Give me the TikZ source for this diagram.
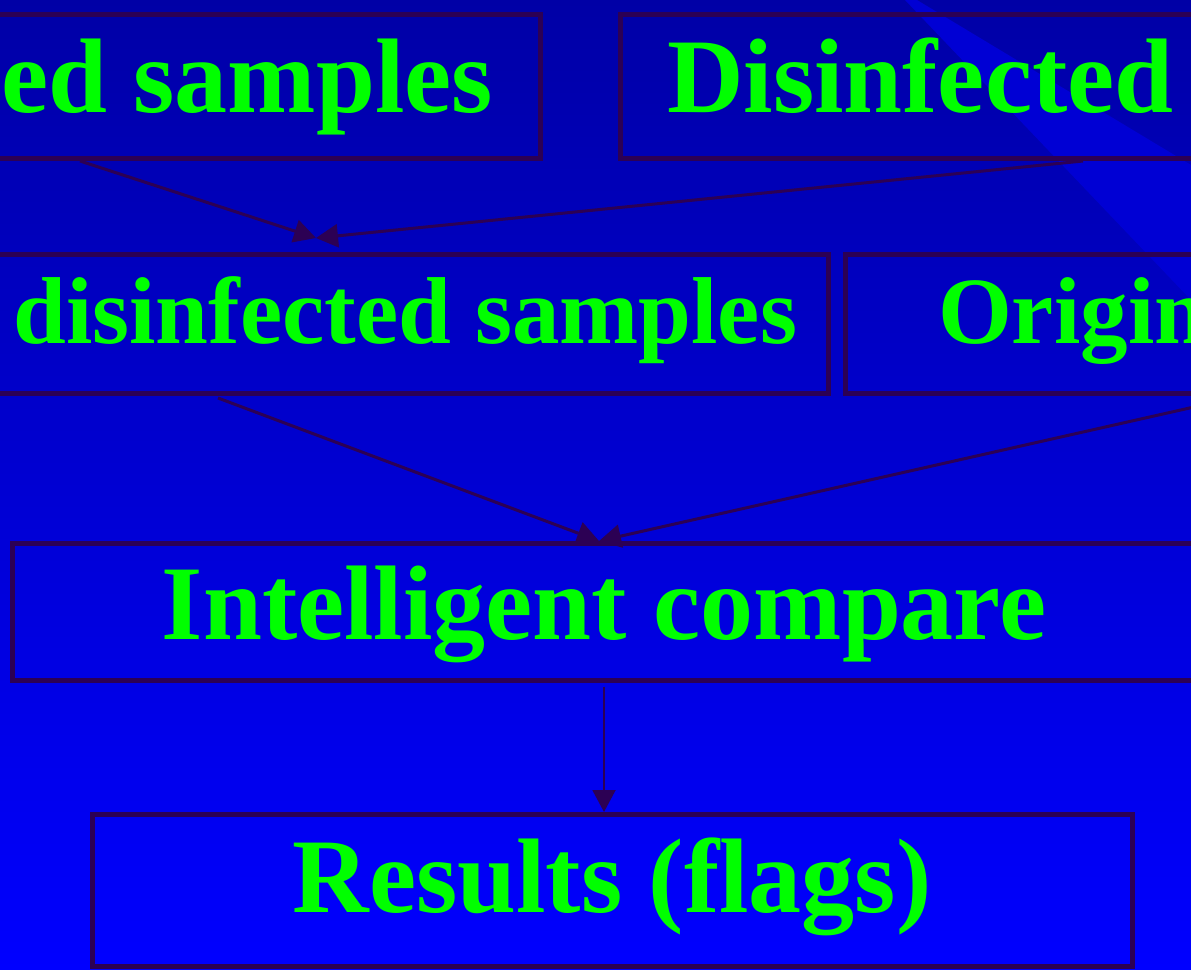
\documentclass[tikz,border=0pt]{standalone}
\usepackage{fontspec}
\setmainfont{Liberation Serif}
\usetikzlibrary{arrows.meta}
\definecolor{bgtop}{RGB}{0,0,166}
\definecolor{bgbot}{RGB}{0,0,255}
\definecolor{wedgecol}{RGB}{0,0,212}
\definecolor{framecol}{RGB}{44,0,84}
\definecolor{txtcol}{RGB}{0,255,0}
\begin{document}
\begin{tikzpicture}[x=1pt,y=-1pt,
  box/.style={draw=framecol, line width=5pt, rectangle, inner sep=0pt, outer sep=0pt},
  lbl/.style={text=txtcol, inner sep=0pt, outer sep=0pt},
  bigtxt/.style={lbl, font=\fontsize{106pt}{110pt}\selectfont\bfseries},
  midtxt/.style={lbl, font=\fontsize{95pt}{100pt}\selectfont\bfseries},
  conn/.style={draw=framecol, line width=3pt, -{Triangle[length=22pt,width=23pt]}},
]
\useasboundingbox (0,0) rectangle (1191,969);
\begin{scope}
\clip (0,0) rectangle (1191,969);
\shade[top color=bgtop, bottom color=bgbot] (0,0) rectangle (1191,969);
\fill[wedgecol] (905,0) -- (1191,300) -- (1191,165) -- (917,0) -- cycle;

% boxes
\node[box, minimum width=920pt, minimum height=144pt] (b1) at (80,86) {};
\node[box, minimum width=926pt, minimum height=144pt] (b2) at (1083,86) {};
\node[box, minimum width=1220pt, minimum height=138.5pt] (b3) at (218,323.75) {};
\node[box, minimum width=778pt, minimum height=138.5pt] (b4) at (1234,323.75) {};
\node[box, minimum width=1184pt, minimum height=137.5pt] (b5) at (604,611.75) {};
\node[box, minimum width=1040pt, minimum height=151.5pt] (b6) at (612,890.25) {};

% labels
\node[bigtxt, anchor=base east] (t1) at (493,112) {ed samples};
\node[bigtxt, anchor=base west] (t2) at (667,112) {Disinfected};
\node[midtxt, anchor=base east] (t3) at (797,343) {disinfected samples};
\node[midtxt, anchor=base west] (t4) at (938,343) {Origin};
\node[bigtxt, anchor=base] (t5) at (604,639) {Intelligent compare};
\node[bigtxt, anchor=base] (t6) at (612,912) {Results (flags)};

% connectors
\coordinate (m1) at (316,238);
\coordinate (m2) at (599,541);
\draw[conn] ([yshift=-3pt]b1.south) -- (m1);
\draw[conn] ([yshift=-3pt]b2.south) -- (m1);
\draw[conn] ([yshift=-5pt]b3.south) -- (m2);
\draw[conn] ([yshift=-5pt]b4.south) -- (m2);
\draw[conn, line width=2pt, shorten >=2.5pt] ([yshift=-6pt]b5.south) -- (b5.south |- b6.north);
\end{scope}
\end{tikzpicture}
\end{document}
